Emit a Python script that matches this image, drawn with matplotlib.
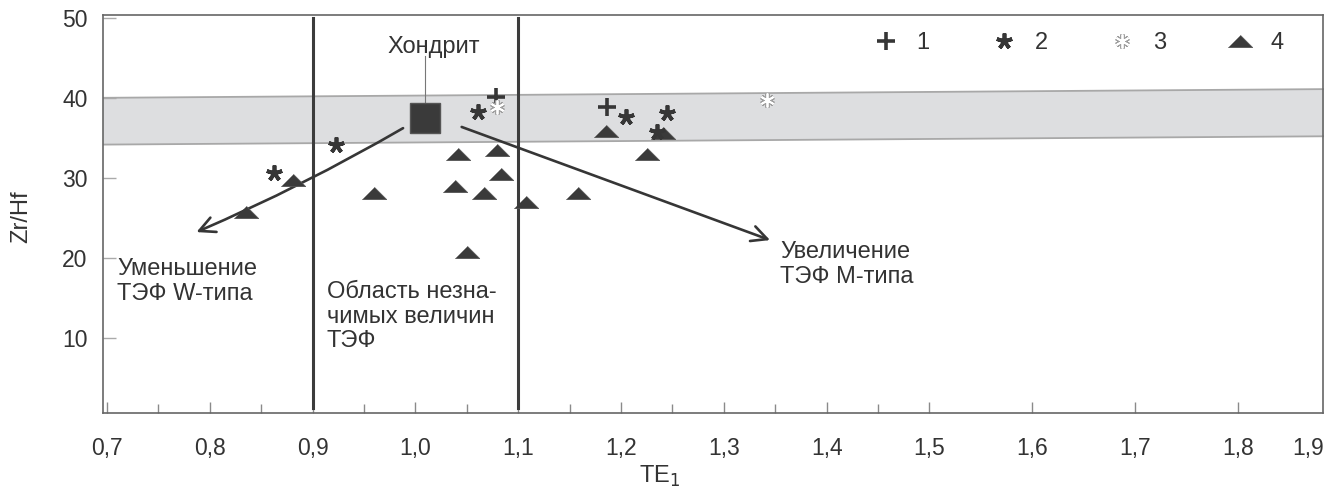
import matplotlib
matplotlib.use("Agg")
import matplotlib.pyplot as plt
from matplotlib.ticker import FixedLocator, FuncFormatter

plt.rcParams["font.family"] = ["Liberation Sans", "DejaVu Sans"]

# data
series1_x = [1.078, 1.186]
series1_y = [40.1, 38.9]

series2_x = [0.862, 0.923, 1.061, 1.205, 1.245, 1.235]
series2_y = [30.6, 34.1, 38.3, 37.7, 38.1, 35.8]

series3_x = [1.079, 1.342]
series3_y = [38.9, 39.8]

series4_x = [0.835, 0.881, 0.960, 1.039, 1.041, 1.050, 1.067, 1.079, 1.083,
             1.108, 1.158, 1.185, 1.225, 1.241]
series4_y = [25.8, 29.75, 28.2, 29.0, 33.0, 20.8, 28.1, 33.5, 30.5,
             27.0, 28.2, 35.9, 33.0, 35.7]

chondrite_x, chondrite_y = 1.009, 37.5

band_x = [0.69, 1.89]
band_lo = [34.25, 35.3]
band_hi = [40.1, 41.2]

legend_labels = ["1", "2", "3", "4"]

dark = "#363636"
text_c = "#333333"
fs = 17
tick_fs = 16.5

fig = plt.figure(figsize=(13.36, 4.91), dpi=100)
ax = fig.add_axes([103 / 1336, 78 / 491, 1220 / 1336, 398 / 491])
ax.set_xlim(0.6961, 1.8829)
ax.set_ylim(0.625, 50.4)

# chondrite band
ax.fill_between(band_x, band_lo, band_hi, facecolor="#dddee0",
                edgecolor="#a8a8a8", lw=1.3, zorder=1)

# boundaries of the insignificant-effect area
for xv in (0.9, 1.1):
    ax.plot([xv, xv], [1.2, 50.0], color="#3c3c3c", lw=2.2, zorder=3)

# arrows
arrow_kw = dict(arrowstyle="->", lw=1.9, color=dark, mutation_scale=28,
                shrinkA=0, shrinkB=0)
ax.annotate("", xy=(0.787, 23.25), xytext=(0.988, 36.25),
            arrowprops=dict(connectionstyle="arc3,rad=-0.03", **arrow_kw),
            zorder=4)
ax.annotate("", xy=(1.345, 22.25), xytext=(1.045, 36.4),
            arrowprops=arrow_kw, zorder=4)

# chondrite
ax.plot([chondrite_x, chondrite_x], [39.4, 45.3], color="#777777", lw=0.8,
        zorder=2)
ax.plot(chondrite_x, chondrite_y, marker="s", ms=21.5, color="#3a3a3a",
        mec="#555555", ls="none", zorder=5)
ax.text(1.018, 45.6, "Хондрит", ha="center", va="baseline", fontsize=fs,
        color=text_c)

# data points
tri = [(-1, -0.5), (1, -0.5), (0, 0.5)]
h4, = ax.plot(series4_x, series4_y, marker=tri, ms=17.5, ls="none",
              color="#3a3a3a", mec="#555555", mew=0.6, zorder=5)
h2, = ax.plot(series2_x, series2_y, marker=(5, 2, 0), ms=11.5, mew=2.7,
              ls="none", color=dark, zorder=6)
h1, = ax.plot(series1_x, series1_y, marker="+", ms=13, mew=2.6, ls="none",
              color=dark, zorder=6)
h3a, = ax.plot(series3_x, series3_y, marker=(6, 2, 0), ms=10, mew=3.4,
               ls="none", color="#9f9f9f", zorder=6)
h3b, = ax.plot(series3_x, series3_y, marker=(6, 2, 0), ms=10, mew=1.3,
               ls="none", color="white", zorder=7)

ax.legend([h1, h2, (h3a, h3b), h4], legend_labels, ncol=4, frameon=False,
          loc="center right", bbox_to_anchor=(0.968, 0.93), fontsize=fs,
          handlelength=1.0, handletextpad=0.8, columnspacing=2.65,
          borderpad=0, borderaxespad=0, labelcolor=text_c)

# region labels
ax.text(0.7097, 20.0, "Уменьшение\nТЭФ W-типа", ha="left", va="top",
        fontsize=fs, color=text_c, linespacing=1.15)
ax.text(0.914, 17.1, "Область незна-\nчимых величин\nТЭФ", ha="left",
        va="top", fontsize=fs, color=text_c, linespacing=1.15)
ax.text(1.3547, 22.1, "Увеличение\nТЭФ М-типа", ha="left", va="top",
        fontsize=fs, color=text_c, linespacing=1.15)

# axes styling
for s in ax.spines.values():
    s.set_color("#666666")
    s.set_linewidth(1.2)

major_x = [0.7, 0.8, 0.9, 1.0, 1.1, 1.2, 1.3, 1.4, 1.5, 1.6, 1.7, 1.8]
minor_x = [0.75, 0.85, 0.95, 1.05, 1.15, 1.25, 1.35, 1.45]
ax.xaxis.set_major_locator(FixedLocator(major_x))
ax.xaxis.set_minor_locator(FixedLocator(minor_x))
ax.xaxis.set_major_formatter(FuncFormatter(lambda v, p: f"{v:.1f}".replace(".", ",")))
ax.set_yticks([10, 20, 30, 40, 50])

ax.tick_params(axis="x", which="major", direction="in", length=8, width=1,
               color="#8a8a8a", pad=17, labelsize=tick_fs, labelcolor=text_c)
ax.tick_params(axis="x", which="minor", direction="in", length=6.5, width=1,
               color="#8a8a8a")
ax.tick_params(axis="y", direction="in", length=9, width=1, color="#aaaaaa",
               pad=11, labelsize=tick_fs, labelcolor=text_c)

# last tick label sits at the right spine, as in the source figure
ax.annotate("1,9", xy=(0.988, 0), xycoords="axes fraction",
            xytext=(0, -17), textcoords="offset points", ha="center",
            va="top", fontsize=tick_fs, color=text_c, annotation_clip=False)

ax.set_xlabel("TE$_1$", fontsize=fs, color=text_c)
ax.xaxis.set_label_coords(0.4566, -0.128)
ax.set_ylabel("Zr/Hf", fontsize=fs, color=text_c)
ax.yaxis.set_label_coords(-0.058, 0.492)

fig.savefig("out.png", dpi=100)
